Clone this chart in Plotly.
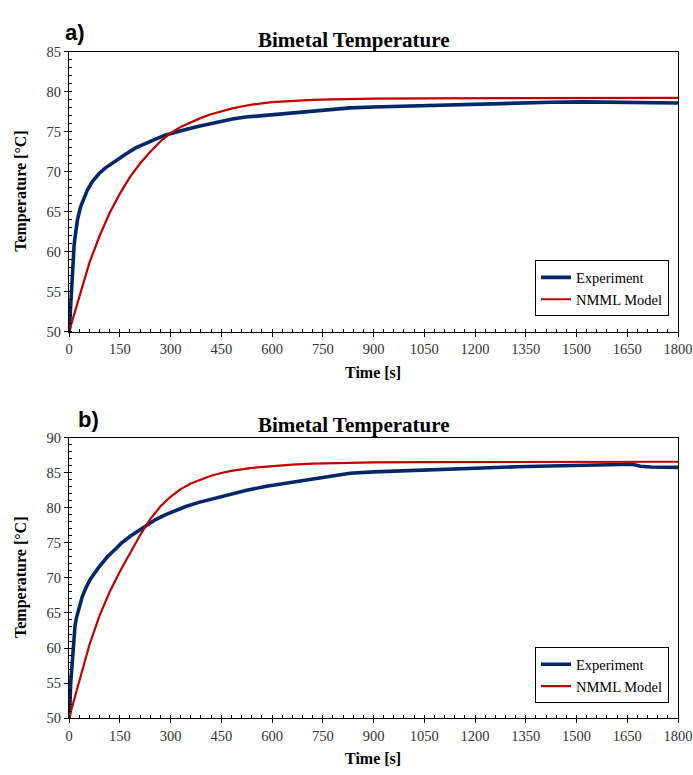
import plotly.graph_objects as go

# ---- measured data -------------------------------------------------------
# Panel a) experiment
t_exp_a = [0, 2, 4, 7, 10, 12, 15, 18, 25, 34, 44, 54, 69, 89, 108, 138, 167,
           197, 227, 256, 286, 315, 345, 384, 433, 483, 522, 580, 634, 690,
           732, 780, 831, 900, 980, 1050, 1127, 1200, 1300, 1422, 1520, 1600,
           1668, 1740, 1800]
T_exp_a = [50.0, 50.5, 52.5, 55.4, 58.0, 59.3, 60.8, 61.9, 64.0, 65.6, 66.8,
           67.7, 68.8, 69.8, 70.5, 71.4, 72.2, 73.0, 73.6, 74.1, 74.6, 75.0,
           75.3, 75.7, 76.2, 76.6, 76.85, 77.05, 77.3, 77.5, 77.6, 77.8, 78.0,
           78.1, 78.2, 78.3, 78.36, 78.45, 78.55, 78.7, 78.75, 78.7, 78.6,
           78.55, 78.6]

# Panel a) NMML model
t_mod_a = [0, 30, 60, 90, 120, 150, 180, 210, 240, 270, 300, 330, 360, 390,
           420, 450, 480, 510, 540, 600, 660, 720, 780, 840, 900, 1050, 1200,
           1500, 1800]
T_mod_a = [50.0, 54.45, 58.6, 61.95, 64.85, 67.25, 69.35, 71.05, 72.5, 73.8,
           74.85, 75.6, 76.2, 76.75, 77.2, 77.58, 77.9, 78.17, 78.4, 78.72,
           78.9, 79.0, 79.07, 79.12, 79.15, 79.2, 79.22, 79.25, 79.25]

# Panel b) experiment
t_exp_b = [0, 2, 5, 7, 10, 12, 15, 18, 22, 26, 30, 39, 51, 64, 89, 113, 143,
           153, 182, 212, 240, 256, 286, 315, 345, 384, 433, 483, 522, 584,
           650, 700, 750, 831, 900, 1000, 1127, 1200, 1324, 1420, 1521, 1600,
           1639, 1665, 1689, 1720, 1800]
T_exp_b = [50.0, 50.7, 55.0, 56.5, 59.0, 60.3, 62.2, 63.3, 64.3, 65.1, 65.8,
           67.3, 68.7, 69.9, 71.6, 73.0, 74.4, 74.9, 76.0, 77.0, 77.9, 78.35,
           79.05, 79.65, 80.2, 80.8, 81.45, 82.05, 82.5, 83.1, 83.6, 84.0,
           84.35, 84.95, 85.15, 85.35, 85.57, 85.68, 85.88, 86.0, 86.12, 86.2,
           86.27, 86.25, 85.95, 85.85, 85.8]

# Panel b) NMML model
t_mod_b = [0, 30, 60, 90, 120, 150, 180, 210, 240, 270, 300, 330, 360, 390,
           420, 450, 480, 540, 600, 660, 720, 780, 840, 900, 1050, 1200, 1500,
           1800]
T_mod_b = [50.0, 55.2, 60.4, 64.6, 68.0, 70.9, 73.6, 76.1, 78.4, 80.2, 81.6,
           82.7, 83.5, 84.1, 84.6, 85.0, 85.3, 85.72, 86.0, 86.2, 86.32,
           86.4, 86.46, 86.5, 86.55, 86.58, 86.6, 86.6]

x_range = [0, 1800]
y_range_a = [50, 85]
y_range_b = [50, 90]

panel_labels = ["a)", "b)"]
chart_title = "Bimetal Temperature"
x_title = "Time [s]"
y_title = "Temperature [°C]"
series_names = ["Experiment", "NMML Model"]

# ---- styling -------------------------------------------------------------
W, H = 693, 775
ML, MR = 69, 15
PW = W - ML - MR
SERIF = "Liberation Serif, Times New Roman, serif"
SANS = "Liberation Sans, Arial, sans-serif"
BLUE = "#002868"
RED = "#C00000"
TICK_COLOR = "#333333"


def px_x(p):
    return (p - ML) / PW


def px_y(p):
    return 1 - p / H


fig = go.Figure()

panels = [
    dict(x="x", y="y", ox="x3", oy="y3", legend="legend",
         t_exp=t_exp_a, T_exp=T_exp_a, t_mod=t_mod_a, T_mod=T_mod_a),
    dict(x="x2", y="y2", ox="x4", oy="y4", legend="legend2",
         t_exp=t_exp_b, T_exp=T_exp_b, t_mod=t_mod_b, T_mod=T_mod_b),
]

for p in panels:
    fig.add_trace(go.Scatter(x=p["t_exp"], y=p["T_exp"], mode="lines",
                             name=series_names[0], legend=p["legend"],
                             line=dict(color=BLUE, width=3.6),
                             xaxis=p["x"], yaxis=p["y"]))
    fig.add_trace(go.Scatter(x=p["t_mod"], y=p["T_mod"], mode="lines",
                             name=series_names[1], legend=p["legend"],
                             line=dict(color=RED, width=2.2),
                             xaxis=p["x"], yaxis=p["y"]))
    # invisible carrier traces so the inside-tick overlay axes are laid out
    fig.add_trace(go.Scatter(x=p["t_mod"][:1], y=p["T_mod"][:1], mode="lines",
                             showlegend=False, hoverinfo="skip", opacity=0,
                             xaxis=p["ox"], yaxis=p["oy"]))

dom_a = [px_y(330.7), px_y(44.8)]
dom_b = [px_y(725), px_y(439)]

tickfont = dict(family=SERIF, size=14.5, color=TICK_COLOR)


def main_x(anchor):
    return dict(range=x_range, dtick=150, tick0=0, anchor=anchor,
                showline=True, linecolor="black", linewidth=1.3, mirror=True,
                ticks="outside", ticklen=4, tickwidth=1, tickcolor="black",
                minor=dict(dtick=30, ticks="inside", ticklen=3, tickwidth=1,
                           tickcolor="black"),
                showgrid=False, zeroline=False, tickfont=tickfont)


def main_y(anchor, rng, dom):
    return dict(range=rng, dtick=5, tick0=50, anchor=anchor, domain=dom,
                showline=True, linecolor="black", linewidth=1.3, mirror=True,
                ticks="outside", ticklen=4, tickwidth=1, tickcolor="black",
                minor=dict(dtick=1, ticks="inside", ticklen=3, tickwidth=1,
                           tickcolor="black"),
                showgrid=False, zeroline=False, tickfont=tickfont)


def over_x(base, anchor):
    return dict(overlaying=base, anchor=anchor, range=x_range, dtick=150,
                tick0=0, ticks="inside", ticklen=3, tickwidth=1,
                tickcolor="black", showticklabels=False, showline=False,
                showgrid=False, zeroline=False)


def over_y(base, anchor, rng):
    return dict(overlaying=base, anchor=anchor, range=rng, dtick=5, tick0=50,
                side="left", ticks="inside", ticklen=3, tickwidth=1,
                tickcolor="black", showticklabels=False, showline=False,
                showgrid=False, zeroline=False)


legend_style = dict(bgcolor="white", bordercolor="black", borderwidth=1,
                    font=dict(family=SERIF, size=14.5, color="black"),
                    xanchor="right", yanchor="bottom", itemwidth=30,
                    tracegroupgap=0)

fig.update_layout(
    width=W, height=H,
    font=dict(family=SERIF, color="black"),
    margin=dict(l=ML, r=MR, t=0, b=0, pad=0),
    paper_bgcolor="white", plot_bgcolor="white",
    xaxis=main_x("y"), yaxis=main_y("x", y_range_a, dom_a),
    xaxis2=main_x("y2"), yaxis2=main_y("x2", y_range_b, dom_b),
    xaxis3=over_x("x", "y"), yaxis3=over_y("y", "x", y_range_a),
    xaxis4=over_x("x2", "y2"), yaxis4=over_y("y2", "x2", y_range_b),
    legend=dict(x=px_x(669), y=px_y(315), **legend_style),
    legend2=dict(x=px_x(669), y=px_y(710), **legend_style),
    showlegend=True,
)

annotations = []
for lab, lab_y, title_y, xt_y, plot_mid, lab_x in [
        (panel_labels[0], 25, 33, 372, 187.7, 63),
        (panel_labels[1], 420, 426, 766, 582, 76)]:
    annotations.append(dict(text=f"<b>{lab}</b>", x=px_x(lab_x), y=px_y(lab_y),
                            xref="paper", yref="paper", xanchor="left",
                            yanchor="middle", showarrow=False,
                            font=dict(family=SANS, size=22, color="black")))
    annotations.append(dict(text=f"<b>{chart_title}</b>", x=px_x(354),
                            y=px_y(title_y), xref="paper", yref="paper",
                            xanchor="center", yanchor="middle",
                            showarrow=False,
                            font=dict(family=SERIF, size=21, color="black")))
    annotations.append(dict(text=f"<b>{x_title}</b>", x=px_x(373),
                            y=px_y(xt_y), xref="paper", yref="paper",
                            xanchor="center", yanchor="middle",
                            showarrow=False,
                            font=dict(family=SERIF, size=16, color="black")))
    annotations.append(dict(text=f"<b>{y_title}</b>", x=px_x(21),
                            y=px_y(plot_mid), xref="paper", yref="paper",
                            xanchor="center", yanchor="middle", textangle=-90,
                            showarrow=False,
                            font=dict(family=SERIF, size=16, color="black")))

fig.update_layout(annotations=annotations)

fig.write_html("out.html")
